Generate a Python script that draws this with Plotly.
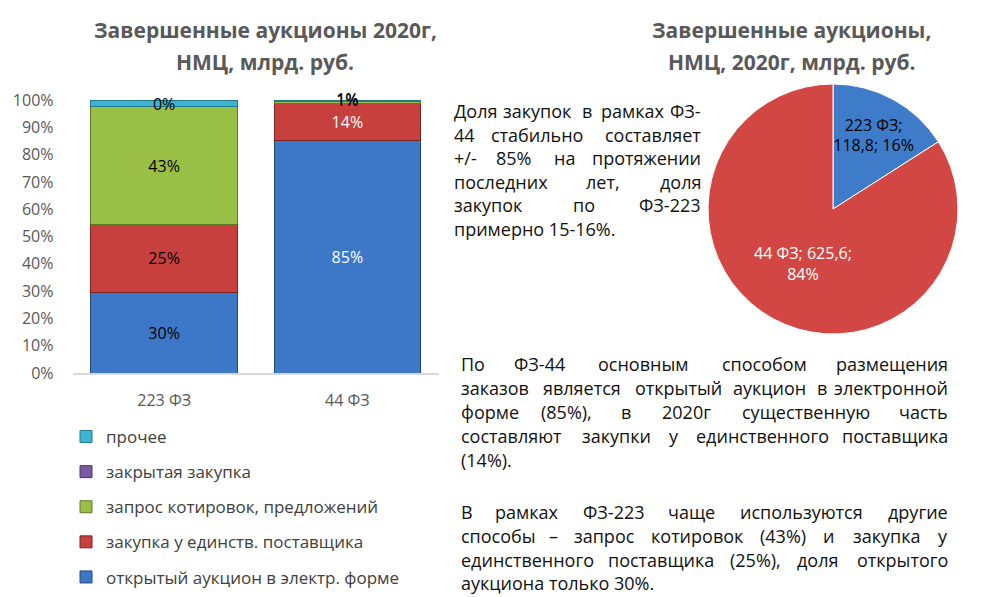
import plotly.graph_objects as go

# --- data ---
categories = ["223 ФЗ", "44 ФЗ"]
series_names = [
    "открытый аукцион в электр. форме",
    "закупка у единств. поставщика",
    "запрос котировок, предложений",
    "закрытая закупка",
    "прочее",
]
open_auction = [29.6, 85.0]
single_supplier = [24.8, 13.9]
quotations = [43.2, 0.6]
closed = [0.2, 0.0]
other = [2.2, 0.5]
series_values = [open_auction, single_supplier, quotations, closed, other]
series_labels = [
    ["30%", "85%"],
    ["25%", "14%"],
    ["43%", "1%"],
    ["0%", ""],
    ["", "1%"],
]
colors = ["#3d78c8", "#c8403e", "#9abf47", "#7b5aa3", "#3cb4d2"]
edge_colors = ["#24487c", "#7a2423", "#5d7a26", "#4a3466", "#23788d"]
label_colors = ["black", "white"]
y_ticks = list(range(0, 101, 10))

pie_labels = ["223 ФЗ", "44 ФЗ"]
pie_values = [118.8, 625.6]
pie_text = ["223 ФЗ;<br>118,8; 16%", "44 ФЗ; 625,6;<br>84%"]
pie_colors = ["#3e7cca", "#d24744"]

para1 = [
    "Доля закупок в рамках ФЗ-",
    "44 стабильно составляет",
    "+/- 85% на протяжении",
    "последних лет, доля",
    "закупок по ФЗ-223",
    "примерно 15-16%.",
]
para1_y = [111, 135, 158, 182, 205, 229]
para2 = [
    "По ФЗ-44 основным способом размещения",
    "заказов является открытый аукцион в электронной",
    "форме (85%), в 2020г существенную часть",
    "составляют закупки у единственного поставщика",
    "(14%).",
    "В рамках ФЗ-223 чаще используются другие",
    "способы – запрос котировок (43%) и закупка у",
    "единственного поставщика (25%), доля открытого",
    "аукциона только 30%.",
]
para2_y = [364, 388, 412, 436, 460, 512, 536, 560, 583]
ragged = {"примерно 15-16%.", "(14%).", "аукциона только 30%."}

W, H = 996, 597
FONT = "Open Sans"

fig = go.Figure()

# stacked bars
bottoms = [0.0, 0.0]
n = len(series_names)
for k, (name, vals, labs, col, edge) in enumerate(zip(series_names, series_values, series_labels, colors, edge_colors)):
    big = [lab if v >= 5 else "" for v, lab in zip(vals, labs)]
    fig.add_trace(go.Bar(
        x=categories, y=vals, name=name,
        marker=dict(color=col, line=dict(color=edge, width=1)),
        text=big, textposition="inside", insidetextanchor="middle",
        textfont=dict(size=16, color=label_colors, family=FONT),
        legendgroup=name, legendrank=n - k, hoverinfo="skip",
    ))
    # small segments get their label as plain text on top
    small_x, small_y, small_t = [], [], []
    for i, (v, lab) in enumerate(zip(vals, labs)):
        if lab and v < 5:
            small_x.append(categories[i])
            small_y.append(bottoms[i] + v / 2)
            small_t.append(lab)
        bottoms[i] += v
    if small_t:
        fig.add_trace(go.Scatter(
            x=small_x, y=small_y, text=small_t, mode="text",
            textfont=dict(size=16, color="black", family=FONT),
            showlegend=False, hoverinfo="skip", cliponaxis=False,
        ))

fig.add_trace(go.Pie(
    labels=pie_labels, values=pie_values, text=pie_text,
    textinfo="text", textposition="inside", insidetextorientation="horizontal",
    textfont=dict(size=16, color=["black", "white"], family=FONT),
    marker=dict(colors=pie_colors, line=dict(color="white", width=1)),
    sort=False, direction="clockwise", rotation=0,
    domain=dict(x=[708 / W, 958 / W], y=[1 - 334 / H, 1 - 84 / H]),
    showlegend=False, hoverinfo="skip",
))

ann = []


def px_x(v):
    return v / W


def px_y(v):
    return 1 - v / H


def word_w(word, cw):
    # rough width of a word in pixels for the justified text
    total = 0.0
    for ch in word:
        if ch in ".,()-–/;:":
            total += 0.5
        elif ch in "мшщжюыФМШЩЖЮ%":
            total += 1.3
        else:
            total += 1.0
    return total * cw


def add_line(text, x0, x1, y, cw=10.1):
    base = dict(xref="paper", yref="paper", showarrow=False, yanchor="middle",
                font=dict(size=18, family=FONT, color="#111111"))
    words = text.split(" ")
    if text in ragged or len(words) == 1:
        ann.append(dict(base, x=px_x(x0), y=px_y(y), text=text, xanchor="left"))
        return
    widths = [word_w(w, cw) for w in words]
    gap = (x1 - x0 - sum(widths)) / (len(words) - 1)
    x = x0
    for i, (w, ww) in enumerate(zip(words, widths)):
        if i == 0:
            ann.append(dict(base, x=px_x(x0), y=px_y(y), text=w, xanchor="left"))
        elif i == len(words) - 1:
            ann.append(dict(base, x=px_x(x1), y=px_y(y), text=w, xanchor="right"))
        else:
            ann.append(dict(base, x=px_x(x + ww / 2), y=px_y(y), text=w, xanchor="center"))
        x += ww + gap


for t, y in zip(para1, para1_y):
    add_line(t, 452, 703, y)
for t, y in zip(para2, para2_y):
    add_line(t, 459, 950, y)

# titles
title_font = dict(size=21, family=FONT, color="#595959", weight="bold")
for txt, cx, cy in [
    ("Завершенные аукционы 2020г,", 265, 30),
    ("НМЦ, млрд. руб.", 265, 62),
    ("Завершенные аукционы,", 791, 30),
    ("НМЦ, 2020г, млрд. руб.", 791, 62),
]:
    ann.append(dict(xref="paper", yref="paper", x=px_x(cx), y=px_y(cy), text=txt,
                    showarrow=False, xanchor="center", yanchor="middle", font=title_font))

fig.update_layout(
    width=W, height=H,
    margin=dict(l=0, r=0, t=0, b=0, autoexpand=False),
    paper_bgcolor="white", plot_bgcolor="white",
    barmode="stack", bargap=0.2,
    font=dict(family=FONT, color="#595959"),
    uniformtext=dict(minsize=16, mode="show"),
    annotations=ann,
    legend=dict(
        x=66 / W, y=1 - 419 / H, xanchor="left", yanchor="top",
        traceorder="grouped", tracegroupgap=10,
        font=dict(size=17, color="#404040", family=FONT),
        itemclick=False,
    ),
    xaxis=dict(
        domain=[72.5 / W, 439 / W], showgrid=False,
        showline=True, linecolor="#d9d9d9", linewidth=1.5,
        tickfont=dict(size=16, color="#595959"), ticklabelstandoff=12,
    ),
    yaxis=dict(
        domain=[1 - 373 / H, 1 - 100 / H], range=[0, 100],
        tickvals=y_ticks, ticktext=[f"{v}%" for v in y_ticks],
        showgrid=False, zeroline=False, showline=False,
        tickfont=dict(size=16, color="#595959"), ticklabelstandoff=18,
    ),
)

fig.write_html("out.html", config={"displayModeBar": False},
               post_script="document.body.style.margin='0';")
